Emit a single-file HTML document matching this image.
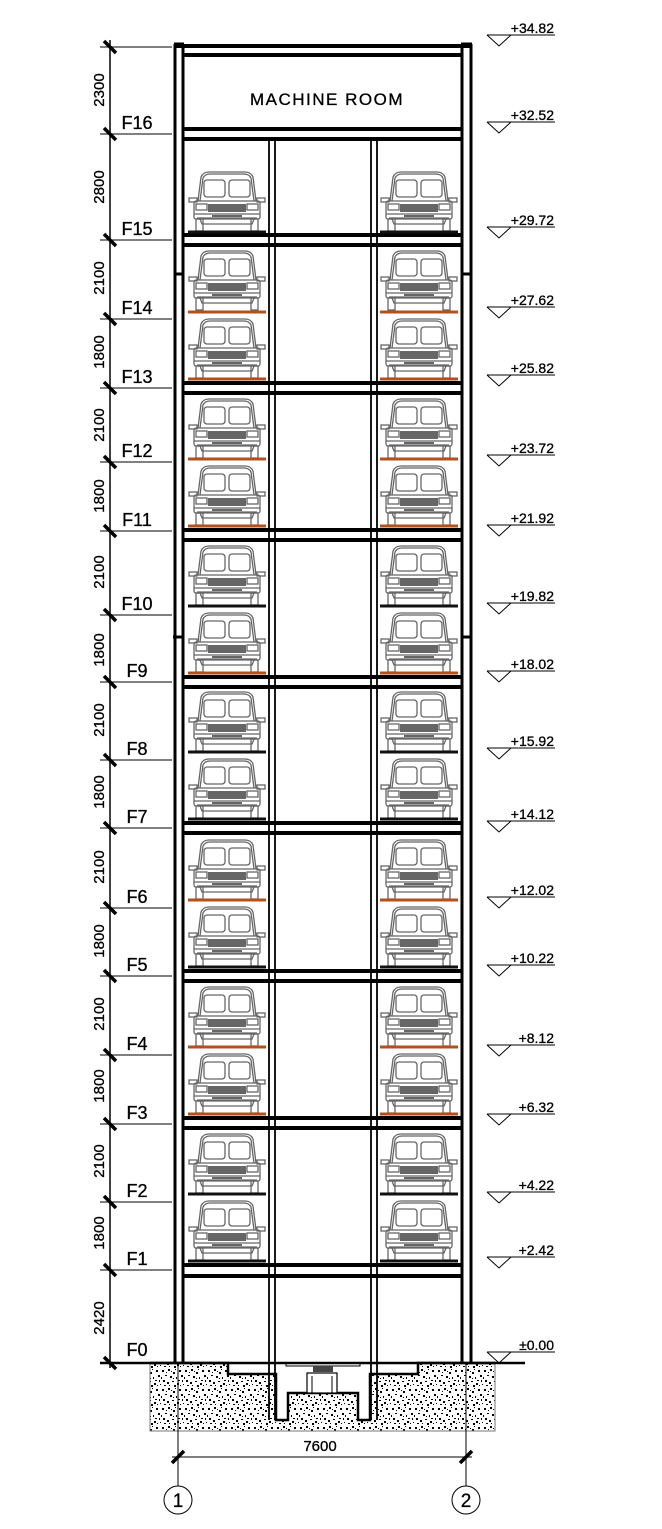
<!DOCTYPE html>
<html><head><meta charset="utf-8"><style>
html,body{margin:0;padding:0;background:#fff}
svg{display:block}
text{font-family:"Liberation Sans",sans-serif;fill:#000;stroke:#000;stroke-width:0.3}
</style></head><body>
<svg width="662" height="1529" viewBox="0 0 662 1529" xmlns="http://www.w3.org/2000/svg">
<defs>
<pattern id="conc" width="23" height="19" patternUnits="userSpaceOnUse">
<rect width="23" height="19" fill="#fff"/>
<g fill="#000">
<rect x="1" y="2" width="2" height="2"/><rect x="7" y="1" width="2" height="2"/><rect x="12" y="4" width="2" height="2"/>
<rect x="18" y="2" width="2" height="2"/><rect x="4" y="7" width="2" height="1"/><rect x="9" y="8" width="2" height="2"/>
<rect x="15" y="9" width="1" height="2"/><rect x="20" y="7" width="2" height="2"/><rect x="2" y="12" width="2" height="2"/>
<rect x="6" y="14" width="2" height="2"/><rect x="11" y="13" width="2" height="1"/><rect x="16" y="15" width="2" height="2"/>
<rect x="21" y="12" width="1" height="2"/><rect x="3" y="17" width="2" height="1"/><rect x="13" y="17" width="2" height="2"/>
<rect x="10" y="3" width="1" height="1"/><rect x="19" y="17" width="1" height="1"/><rect x="5" y="4" width="1" height="1"/>
<rect x="14" y="1" width="1" height="1"/><rect x="0" y="9" width="1" height="2"/><rect x="17" y="12" width="2" height="1"/>
<rect x="8" y="17" width="1" height="1"/><rect x="12" y="10" width="1" height="1"/><rect x="22" y="16" width="1" height="1"/>
</g></pattern>
<symbol id="car" viewBox="0 0 78 61" width="78" height="61">
<g fill="none" stroke="#666" stroke-width="1.3">
<path d="M10,30 L13,6 Q15,1 21,1 L57,1 Q63,1 65,6 L68,30"/>
<path d="M12,30 L15,7 Q17,3 22,3 L56,3 Q61,3 63,7 L66,30"/>
<rect x="16" y="9" width="21" height="17" rx="3"/>
<rect x="41" y="9" width="21" height="17" rx="3"/>
<rect x="1" y="27" width="8" height="4"/><rect x="69" y="27" width="8" height="4"/>
<rect x="6" y="30" width="66" height="18" rx="2"/>
<rect x="8" y="33" width="11" height="6"/><rect x="59" y="33" width="11" height="6"/>
<line x1="6" y1="43" x2="72" y2="43"/><line x1="9" y1="47" x2="69" y2="47"/>
<path d="M12,48 L14,53 L64,53 L66,48"/>
<rect x="8" y="48" width="7" height="12"/><rect x="63" y="48" width="7" height="12"/>
</g>
<rect x="20" y="33" width="38" height="8" fill="#666"/>
<rect x="24" y="44" width="30" height="2" fill="#666"/>
</symbol>
</defs>

<path d="M150,1363 L228,1363 L228,1374 L276,1374 L276,1420 L288,1420 L288,1393 L358,1393 L358,1420 L370,1420 L370,1374 L418,1374 L418,1363 L495,1363 L495,1431 L150,1431 Z" fill="url(#conc)" stroke="#777" stroke-width="1"/>
<path d="M150,1363 L228,1363 L228,1374 L276,1374 L276,1420 L288,1420 L288,1393 L358,1393 L358,1420 L370,1420 L370,1374 L418,1374 L418,1363 L495,1363" fill="none" stroke="#000" stroke-width="2.5"/>
<rect x="286" y="1363" width="74" height="3" fill="#fff" stroke="#000" stroke-width="1"/>
<rect x="313" y="1366" width="20" height="6" fill="#444"/>
<rect x="307" y="1373" width="30" height="20" fill="#fff" stroke="#000" stroke-width="1.2"/>
<line x1="312" y1="1376" x2="312" y2="1393" stroke="#000"/><line x1="332" y1="1376" x2="332" y2="1393" stroke="#000"/>

<line x1="100" y1="1363" x2="525" y2="1363" stroke="#000" stroke-width="2.5"/>

<g stroke="#000" stroke-width="3" fill="none">
<line x1="175" y1="44" x2="175" y2="1363"/><line x1="183" y1="44" x2="183" y2="1363"/>
<line x1="462" y1="44" x2="462" y2="1363"/><line x1="471" y1="44" x2="471" y2="1363"/>
<line x1="174" y1="44" x2="184" y2="44"/><line x1="461" y1="44" x2="472" y2="44"/>
<line x1="175" y1="274" x2="183" y2="274"/><line x1="462" y1="274" x2="471" y2="274"/>
<line x1="173" y1="637" x2="183" y2="637"/><line x1="462" y1="637" x2="471" y2="637"/>
</g>
<g stroke="#000" stroke-width="1.8">
<line x1="269" y1="139" x2="269" y2="1420"/><line x1="275" y1="139" x2="275" y2="1420"/>
<line x1="371" y1="139" x2="371" y2="1420"/><line x1="377" y1="139" x2="377" y2="1420"/>
</g>
<g stroke="#000" stroke-width="4">
<line x1="175" y1="46" x2="471" y2="46"/><line x1="183" y1="55" x2="462" y2="55"/>
<line x1="183" y1="129" x2="462" y2="129"/><line x1="183" y1="139" x2="462" y2="139"/>
<line x1="183" y1="235" x2="462" y2="235"/><line x1="183" y1="245" x2="462" y2="245"/>
<line x1="183" y1="383" x2="462" y2="383"/><line x1="183" y1="393" x2="462" y2="393"/>
<line x1="183" y1="530" x2="462" y2="530"/><line x1="183" y1="540" x2="462" y2="540"/>
<line x1="183" y1="677" x2="462" y2="677"/><line x1="183" y1="687" x2="462" y2="687"/>
<line x1="183" y1="823" x2="462" y2="823"/><line x1="183" y1="833" x2="462" y2="833"/>
<line x1="183" y1="971" x2="462" y2="971"/><line x1="183" y1="981" x2="462" y2="981"/>
<line x1="183" y1="1118" x2="462" y2="1118"/><line x1="183" y1="1128" x2="462" y2="1128"/>
<line x1="183" y1="1265" x2="462" y2="1265"/><line x1="183" y1="1276" x2="462" y2="1276"/>
</g>
<text x="327" y="105" font-size="17" text-anchor="middle" letter-spacing="1.5">MACHINE ROOM</text>

<g>
<use href="#car" x="188" y="171"/><use href="#car" x="380" y="171"/>
<use href="#car" x="188" y="250"/><use href="#car" x="380" y="250"/>
<use href="#car" x="188" y="318"/><use href="#car" x="380" y="318"/>
<use href="#car" x="188" y="398"/><use href="#car" x="380" y="398"/>
<use href="#car" x="188" y="465"/><use href="#car" x="380" y="465"/>
<use href="#car" x="188" y="545"/><use href="#car" x="380" y="545"/>
<use href="#car" x="188" y="612"/><use href="#car" x="380" y="612"/>
<use href="#car" x="188" y="691"/><use href="#car" x="380" y="691"/>
<use href="#car" x="188" y="758"/><use href="#car" x="380" y="758"/>
<use href="#car" x="188" y="839"/><use href="#car" x="380" y="839"/>
<use href="#car" x="188" y="906"/><use href="#car" x="380" y="906"/>
<use href="#car" x="188" y="986"/><use href="#car" x="380" y="986"/>
<use href="#car" x="188" y="1053"/><use href="#car" x="380" y="1053"/>
<use href="#car" x="188" y="1133"/><use href="#car" x="380" y="1133"/>
<use href="#car" x="188" y="1200"/><use href="#car" x="380" y="1200"/>
</g>
<g stroke-width="3">
<g stroke="#111">
<line x1="188" y1="232" x2="266" y2="232"/><line x1="380" y1="232" x2="458" y2="232"/>
<line x1="188" y1="606" x2="266" y2="606"/><line x1="380" y1="606" x2="458" y2="606"/>
<line x1="188" y1="752" x2="266" y2="752"/><line x1="380" y1="752" x2="458" y2="752"/>
<line x1="188" y1="819" x2="266" y2="819"/><line x1="380" y1="819" x2="458" y2="819"/>
<line x1="188" y1="967" x2="266" y2="967"/><line x1="380" y1="967" x2="458" y2="967"/>
<line x1="188" y1="1194" x2="266" y2="1194"/><line x1="380" y1="1194" x2="458" y2="1194"/>
<line x1="188" y1="1261" x2="266" y2="1261"/><line x1="380" y1="1261" x2="458" y2="1261"/>
</g>
<g stroke="#b5501c">
<line x1="188" y1="312" x2="266" y2="312"/><line x1="380" y1="312" x2="458" y2="312"/>
<line x1="188" y1="379" x2="266" y2="379"/><line x1="380" y1="379" x2="458" y2="379"/>
<line x1="188" y1="459" x2="266" y2="459"/><line x1="380" y1="459" x2="458" y2="459"/>
<line x1="188" y1="526" x2="266" y2="526"/><line x1="380" y1="526" x2="458" y2="526"/>
<line x1="188" y1="673" x2="266" y2="673"/><line x1="380" y1="673" x2="458" y2="673"/>
<line x1="188" y1="900" x2="266" y2="900"/><line x1="380" y1="900" x2="458" y2="900"/>
<line x1="188" y1="1047" x2="266" y2="1047"/><line x1="380" y1="1047" x2="458" y2="1047"/>
<line x1="188" y1="1114" x2="266" y2="1114"/><line x1="380" y1="1114" x2="458" y2="1114"/>
</g>
</g>

<line x1="110" y1="40" x2="110" y2="1368" stroke="#000" stroke-width="1.5"/>
<g stroke="#000" stroke-width="1">
<line x1="100" y1="47" x2="172" y2="47"/><line x1="100" y1="134" x2="172" y2="134"/>
<line x1="100" y1="240" x2="172" y2="240"/><line x1="100" y1="319" x2="172" y2="319"/>
<line x1="100" y1="388" x2="172" y2="388"/><line x1="100" y1="462" x2="172" y2="462"/>
<line x1="100" y1="531" x2="172" y2="531"/><line x1="100" y1="615" x2="172" y2="615"/>
<line x1="100" y1="682" x2="172" y2="682"/><line x1="100" y1="760" x2="172" y2="760"/>
<line x1="100" y1="828" x2="172" y2="828"/><line x1="100" y1="908" x2="172" y2="908"/>
<line x1="100" y1="976" x2="172" y2="976"/><line x1="100" y1="1055" x2="172" y2="1055"/>
<line x1="100" y1="1124" x2="172" y2="1124"/><line x1="100" y1="1202" x2="172" y2="1202"/>
<line x1="100" y1="1270" x2="172" y2="1270"/>
</g>
<g stroke="#000" stroke-width="3.5">
<line x1="104" y1="41" x2="116" y2="53"/><line x1="104" y1="128" x2="116" y2="140"/>
<line x1="104" y1="234" x2="116" y2="246"/><line x1="104" y1="313" x2="116" y2="325"/>
<line x1="104" y1="382" x2="116" y2="394"/><line x1="104" y1="456" x2="116" y2="468"/>
<line x1="104" y1="525" x2="116" y2="537"/><line x1="104" y1="609" x2="116" y2="621"/>
<line x1="104" y1="676" x2="116" y2="688"/><line x1="104" y1="754" x2="116" y2="766"/>
<line x1="104" y1="822" x2="116" y2="834"/><line x1="104" y1="902" x2="116" y2="914"/>
<line x1="104" y1="970" x2="116" y2="982"/><line x1="104" y1="1049" x2="116" y2="1061"/>
<line x1="104" y1="1118" x2="116" y2="1130"/><line x1="104" y1="1196" x2="116" y2="1208"/>
<line x1="104" y1="1264" x2="116" y2="1276"/><line x1="104" y1="1357" x2="116" y2="1369"/>
</g>
<g font-size="15" text-anchor="middle">
<text transform="translate(104,90) rotate(-90)">2300</text>
<text transform="translate(104,187) rotate(-90)">2800</text>
<text transform="translate(104,278) rotate(-90)">2100</text>
<text transform="translate(104,352) rotate(-90)">1800</text>
<text transform="translate(104,425) rotate(-90)">2100</text>
<text transform="translate(104,496) rotate(-90)">1800</text>
<text transform="translate(104,572) rotate(-90)">2100</text>
<text transform="translate(104,650) rotate(-90)">1800</text>
<text transform="translate(104,720) rotate(-90)">2100</text>
<text transform="translate(104,792) rotate(-90)">1800</text>
<text transform="translate(104,867) rotate(-90)">2100</text>
<text transform="translate(104,941) rotate(-90)">1800</text>
<text transform="translate(104,1014) rotate(-90)">2100</text>
<text transform="translate(104,1086) rotate(-90)">1800</text>
<text transform="translate(104,1161) rotate(-90)">2100</text>
<text transform="translate(104,1233) rotate(-90)">1800</text>
<text transform="translate(104,1318) rotate(-90)">2420</text>
</g>
<g font-size="18" text-anchor="middle">
<text x="137" y="129">F16</text><text x="137" y="235">F15</text>
<text x="137" y="314">F14</text><text x="137" y="383">F13</text>
<text x="137" y="457">F12</text><text x="137" y="526">F11</text>
<text x="137" y="610">F10</text><text x="137" y="677">F9</text>
<text x="137" y="755">F8</text><text x="137" y="823">F7</text>
<text x="137" y="903">F6</text><text x="137" y="971">F5</text>
<text x="137" y="1050">F4</text><text x="137" y="1119">F3</text>
<text x="137" y="1197">F2</text><text x="137" y="1265">F1</text>
<text x="137" y="1356">F0</text>
</g>

<g stroke="#000" stroke-width="1" fill="none">
<path d="M487,35 L555,35 M487,35 L499,46 L511,35"/>
<path d="M487,122 L555,122 M487,122 L499,133 L511,122"/>
<path d="M487,227 L555,227 M487,227 L499,238 L511,227"/>
<path d="M487,307 L555,307 M487,307 L499,318 L511,307"/>
<path d="M487,375 L555,375 M487,375 L499,386 L511,375"/>
<path d="M487,455 L555,455 M487,455 L499,466 L511,455"/>
<path d="M487,525 L555,525 M487,525 L499,536 L511,525"/>
<path d="M487,603 L555,603 M487,603 L499,614 L511,603"/>
<path d="M487,671 L555,671 M487,671 L499,682 L511,671"/>
<path d="M487,748 L555,748 M487,748 L499,759 L511,748"/>
<path d="M487,821 L555,821 M487,821 L499,832 L511,821"/>
<path d="M487,897 L555,897 M487,897 L499,908 L511,897"/>
<path d="M487,965 L555,965 M487,965 L499,976 L511,965"/>
<path d="M487,1045 L555,1045 M487,1045 L499,1056 L511,1045"/>
<path d="M487,1114 L555,1114 M487,1114 L499,1125 L511,1114"/>
<path d="M487,1192 L555,1192 M487,1192 L499,1203 L511,1192"/>
<path d="M487,1257 L555,1257 M487,1257 L499,1268 L511,1257"/>
<path d="M487,1352 L555,1352 M487,1352 L499,1363 L511,1352"/>
</g>
<g font-size="14" text-anchor="end">
<text x="554" y="33">+34.82</text><text x="554" y="120">+32.52</text>
<text x="554" y="225">+29.72</text><text x="554" y="305">+27.62</text>
<text x="554" y="373">+25.82</text><text x="554" y="453">+23.72</text>
<text x="554" y="523">+21.92</text><text x="554" y="601">+19.82</text>
<text x="554" y="669">+18.02</text><text x="554" y="746">+15.92</text>
<text x="554" y="819">+14.12</text><text x="554" y="895">+12.02</text>
<text x="554" y="963">+10.22</text><text x="554" y="1043">+8.12</text>
<text x="554" y="1112">+6.32</text><text x="554" y="1190">+4.22</text>
<text x="554" y="1255">+2.42</text><text x="554" y="1350">±0.00</text>
</g>

<g stroke="#000" stroke-width="1">
<line x1="178" y1="1363" x2="178" y2="1486"/><line x1="466" y1="1363" x2="466" y2="1486"/>
<line x1="172" y1="1457" x2="472" y2="1457"/>
<circle cx="178" cy="1500" r="14" fill="#fff"/><circle cx="466" cy="1500" r="14" fill="#fff"/>
</g>
<g stroke="#000" stroke-width="3.5">
<line x1="172" y1="1463" x2="184" y2="1451"/><line x1="460" y1="1463" x2="472" y2="1451"/>
</g>
<text x="320" y="1451" font-size="15" text-anchor="middle">7600</text>
<text x="178" y="1507" font-size="19" text-anchor="middle">1</text>
<text x="466" y="1507" font-size="19" text-anchor="middle">2</text>
</svg>
</body></html>
